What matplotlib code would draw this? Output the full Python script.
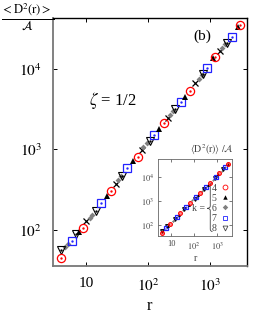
import matplotlib
matplotlib.use("Agg")
import matplotlib.pyplot as plt
from matplotlib.path import Path
from matplotlib.patches import PathPatch
from matplotlib.lines import Line2D

plt.rcParams['font.family'] = ['Liberation Serif', 'DejaVu Serif']
plt.rcParams['mathtext.fontset'] = 'stix'

# data, <D^2(r)>/A against r
r_k4 = [3.95, 8.9, 25.3, 69, 181, 476, 1205, 3050]
d_k4 = [45, 106, 303, 796, 2150, 5350, 14060, 34900]

r_k5 = [7.7, 21.8, 57.3, 150, 395, 1117, 2830]
d_k5 = [94.5, 263, 711, 1815, 4510, 13680, 33030]

r_k6 = [4.58, 5.13, 11.6, 12.5, 32.8, 36.7, 83, 96, 226, 253, 665, 743, 1563, 1746]
d_k6 = [61.6, 67.2, 141, 153, 414, 464, 1059, 1186, 2704, 3030, 7530, 8440, 18150, 20370]

r_k7 = [5.94, 17.5, 45.8, 125, 340, 895, 2265]
d_k7 = [73.1, 215, 582, 1531, 3918, 10280, 24830]

r_k8 = [3.95, 6.9, 14.5, 38.1, 108, 272, 771, 1880]
d_k8 = [56.6, 89, 172, 464, 1256, 3206, 8670, 20940]

r_x = [10, 30.5, 80, 210, 573, 1450]
d_x = [129, 370, 973, 2485, 6715, 16680]

k_labels = ['4', '5', '6', '7', '8']

fig = plt.figure(figsize=(2.74, 3.14), dpi=100)
ax = fig.add_axes([0.193, 0.153, 0.708, 0.790])


def draw_series(a, s):
    # s = scale for marker sizes
    a.plot(r_x, d_x, 'x', color='black', ms=5.0 * s, mew=0.9, ls='none')
    a.plot(r_k6, d_k6, 'D', color='#808080', ms=3.0 * s, mew=0, ls='none')
    a.plot(r_k8, d_k8, 'v', mfc='none', mec='black', ms=6.0 * s, mew=0.8, ls='none')
    a.plot(r_k8, d_k8, '.', color='black', ms=1.4 * s, ls='none')
    a.plot(r_k7, d_k7, 's', mfc='none', mec='#2222ff', ms=5.3 * s, mew=0.9, ls='none')
    a.plot(r_k7, d_k7, '.', color='#2222ff', ms=1.4 * s, ls='none')
    a.plot(r_k5, d_k5, '^', color='black', ms=4.6 * s, mew=0, ls='none')
    a.plot(r_k4, d_k4, 'o', mfc='none', mec='#ff0000', ms=5.9 * s, mew=0.9, ls='none')
    a.plot(r_k4, d_k4, '.', color='#ff0000', ms=1.4 * s, ls='none')


draw_series(ax, 1.0)

ax.set_xscale('log')
ax.set_yscale('log')
ax.set_xlim(2.94, 3954)
ax.set_ylim(36, 42700)
ax.set_xticks([10, 100, 1000])
ax.set_xticklabels(['10', r'$10^2$', r'$10^3$'])
ax.set_yticks([100, 1000, 10000])
ax.set_yticklabels([r'$10^2$', r'$10^3$', r'$10^4$'])
ax.minorticks_off()
ax.tick_params(which='major', direction='in', length=3, width=0.7,
               top=True, right=True, labelsize=11, pad=8, colors='black')
for side in ['left', 'bottom']:
    ax.spines[side].set_color('#777777')
    ax.spines[side].set_linewidth(1.3)
for side in ['top', 'right']:
    ax.spines[side].set_linewidth(1.0)
ax.set_xlabel('r', fontsize=12, labelpad=3)

ax.text(0.77, 0.925, '(b)', transform=ax.transAxes, fontsize=11, ha='center', va='center')
ax.text(0.31, 0.665, r'$\zeta$ = 1/2', transform=ax.transAxes, fontsize=12, ha='center', va='center')

fig.text(0.004, 0.945, r'$\frac{<\mathrm{D}^2(\mathrm{r})>}{\mathcal{A}}$', fontsize=13,
         ha='left', va='center')

# inset
ins = fig.add_axes([0.577, 0.248, 0.270, 0.246])
draw_series(ins, 0.45)
ins.lines[0].set_visible(False)
ins.set_xscale('log')
ins.set_yscale('log')
ins.set_xlim(2.72, 4470)
ins.set_ylim(34.7, 56200)
ins.set_xticks([10, 100, 1000])
ins.set_xticklabels(['10', r'$10^2$', r'$10^3$'])
ins.set_yticks([100, 1000, 10000])
ins.set_yticklabels([r'$10^2$', r'$10^3$', r'$10^4$'])
ins.minorticks_off()
ins.tick_params(which='major', direction='in', length=2, width=0.5,
                top=True, right=True, labelsize=6, pad=3, colors='#444444')
for sp in ins.spines.values():
    sp.set_color('#666666')
    sp.set_linewidth(0.6)
ins.set_xlabel('r', fontsize=7, labelpad=2, color='#444444')
ins.set_title(r'$\langle\mathrm{D}^2(\mathrm{r})\rangle\ /\mathcal{A}$', fontsize=7,
              color='#444444', pad=4, x=0.72)

handles = [
    Line2D([], [], marker='o', mfc='none', mec='#ff0000', ms=3.5, mew=0.6, ls='none'),
    Line2D([], [], marker='^', color='black', ms=3.2, mew=0, ls='none'),
    Line2D([], [], marker='D', color='#808080', ms=2.8, mew=0, ls='none'),
    Line2D([], [], marker='s', mfc='none', mec='#2222ff', ms=3.3, mew=0.6, ls='none'),
    Line2D([], [], marker='v', mfc='none', mec='#444444', ms=3.5, mew=0.6, ls='none'),
]
leg = ins.legend(handles, k_labels, loc='lower right', bbox_to_anchor=(1.0, 0.0),
                 markerfirst=False, frameon=False, fontsize=7, labelspacing=0.12,
                 handlelength=0.8, handletextpad=0.5, borderaxespad=0.1, borderpad=0.2)
for t in leg.get_texts():
    t.set_color('#444444')

ins.text(0.55, 0.36, 'k =', transform=ins.transAxes, fontsize=7, ha='center',
         va='center', color='#444444')

# curly brace
bx, ytop, ybot, ymid, tip = 0.705, 0.69, 0.06, 0.36, 0.665
verts = [(bx + 0.03, ytop), (bx, ytop), (bx, ytop - 0.03), (bx, ymid + 0.03),
         (bx, ymid), (tip, ymid), (tip, ymid),
         (bx, ymid), (bx, ymid - 0.03), (bx, ybot + 0.03),
         (bx, ybot), (bx + 0.03, ybot)]
codes = [Path.MOVETO, Path.CURVE3, Path.CURVE3, Path.LINETO,
         Path.CURVE3, Path.CURVE3, Path.MOVETO,
         Path.CURVE3, Path.CURVE3, Path.LINETO,
         Path.CURVE3, Path.CURVE3]
ins.add_patch(PathPatch(Path(verts, codes), transform=ins.transAxes, fc='none',
                        ec='#444444', lw=0.6, clip_on=False))

fig.savefig('out.png', dpi=100)
